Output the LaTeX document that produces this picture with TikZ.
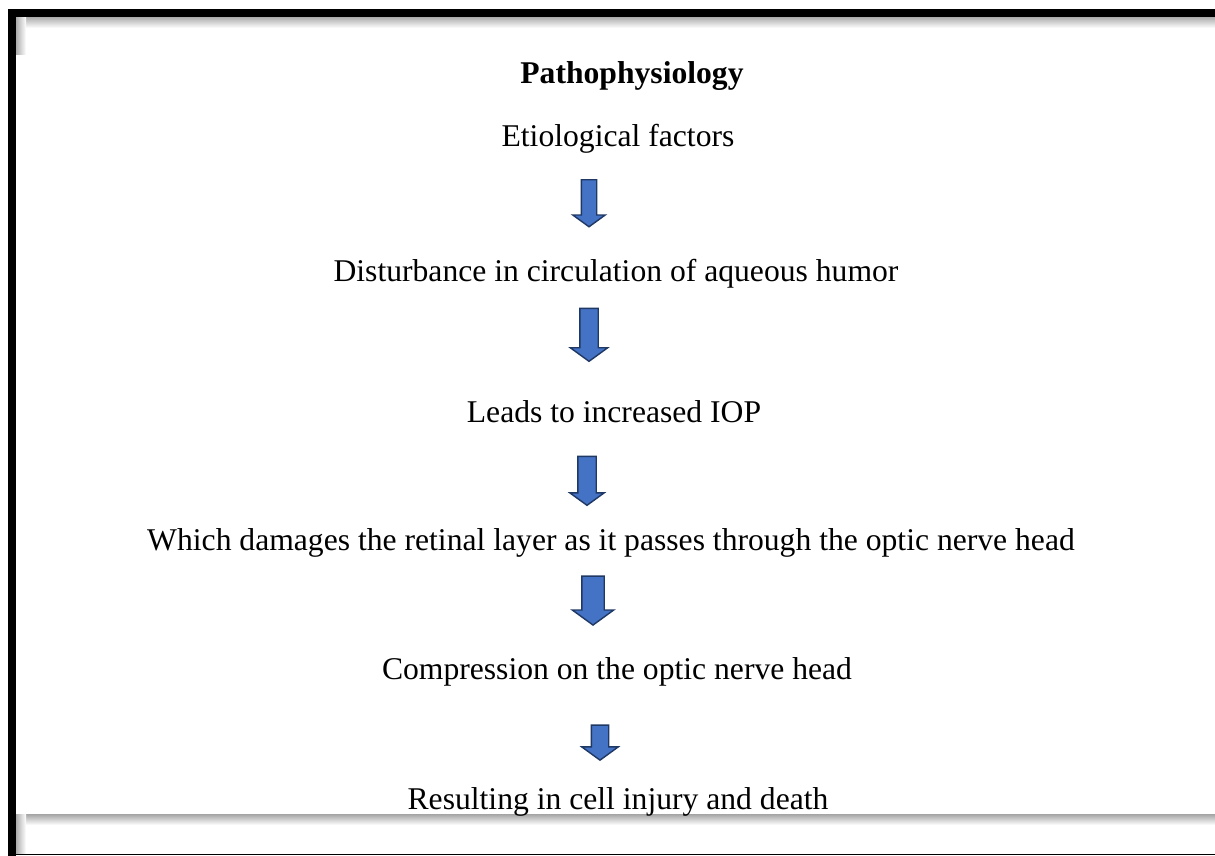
\documentclass[tikz,border=0pt]{standalone}
\usepackage{fontspec}
\setmainfont{Liberation Serif}
\usetikzlibrary{shapes.arrows}
\definecolor{arrblue}{HTML}{4472C4}
\definecolor{arrnavy}{HTML}{1F3864}
\tikzset{
  steptext/.style={font=\fontsize{18}{22}\selectfont, inner sep=0pt},
  blockarr/.style={single arrow, rotate=-90, draw=arrnavy, fill=arrblue, line width=0.8pt,
    single arrow tip angle=108, inner sep=0pt, outer sep=0pt}
}
\begin{document}
\begin{tikzpicture}
	\useasboundingbox (0,0) rectangle (24.3,17.12);

	% frame and shadows
	\shade [top color=gray!65, bottom color=white] (0.32,16.78) rectangle (24.3,16.56);
	\shade [left color=gray!65, right color=white] (0.32,16.78) rectangle (0.52,16.02);
	\shade [top color=gray!65, bottom color=white] (0.32,0.82) rectangle (24.3,0.62);
	\shade [left color=gray!65, right color=white] (0.32,0.82) rectangle (0.52,0.04);
	\draw [line width=0.02cm] (0.32,0.03)--(24.3,0.03);
	\fill [black] (0.16,0) rectangle (0.32,16.94);
	\fill [black] (0.16,16.78) rectangle (24.3,16.94);

	% texts
	\node [steptext, font=\fontsize{18}{22}\selectfont\bfseries] (title) at (12.64,15.60) {Pathophysiology};
	\node [steptext] (etio) at (12.36,14.34) {Etiological factors};
	\node [steptext] (dist) at (12.32,11.64) {Disturbance in circulation of aqueous humor};
	\node [steptext] (iop) at (12.28,8.88) {Leads to increased IOP};
	\node [steptext] (ret) at (12.22,6.26) {Which damages the retinal layer as it passes through the optic nerve head};
	\node [steptext] (comp) at (12.34,3.68) {Compression on the optic nerve head};
	\node [steptext] (death) at (12.36,1.08) {Resulting in cell injury and death};

	% arrows
	\node [blockarr, minimum height=0.94cm, inner ysep=0.14cm, single arrow head extend=0.17cm] (arr1) at (11.78,13.11) {};
	\node [blockarr, minimum height=1.06cm, inner ysep=0.17cm, single arrow head extend=0.19cm] (arr2) at (11.78,10.49) {};
	\node [blockarr, minimum height=0.98cm, inner ysep=0.17cm, single arrow head extend=0.16cm] (arr3) at (11.74,7.57) {};
	\node [blockarr, minimum height=0.98cm, inner ysep=0.21cm, single arrow head extend=0.19cm] (arr4) at (11.86,5.19) {};
	\node [blockarr, minimum height=0.70cm, inner ysep=0.16cm, single arrow head extend=0.19cm] (arr5) at (12.00,2.33) {};
\end{tikzpicture}
\end{document}
